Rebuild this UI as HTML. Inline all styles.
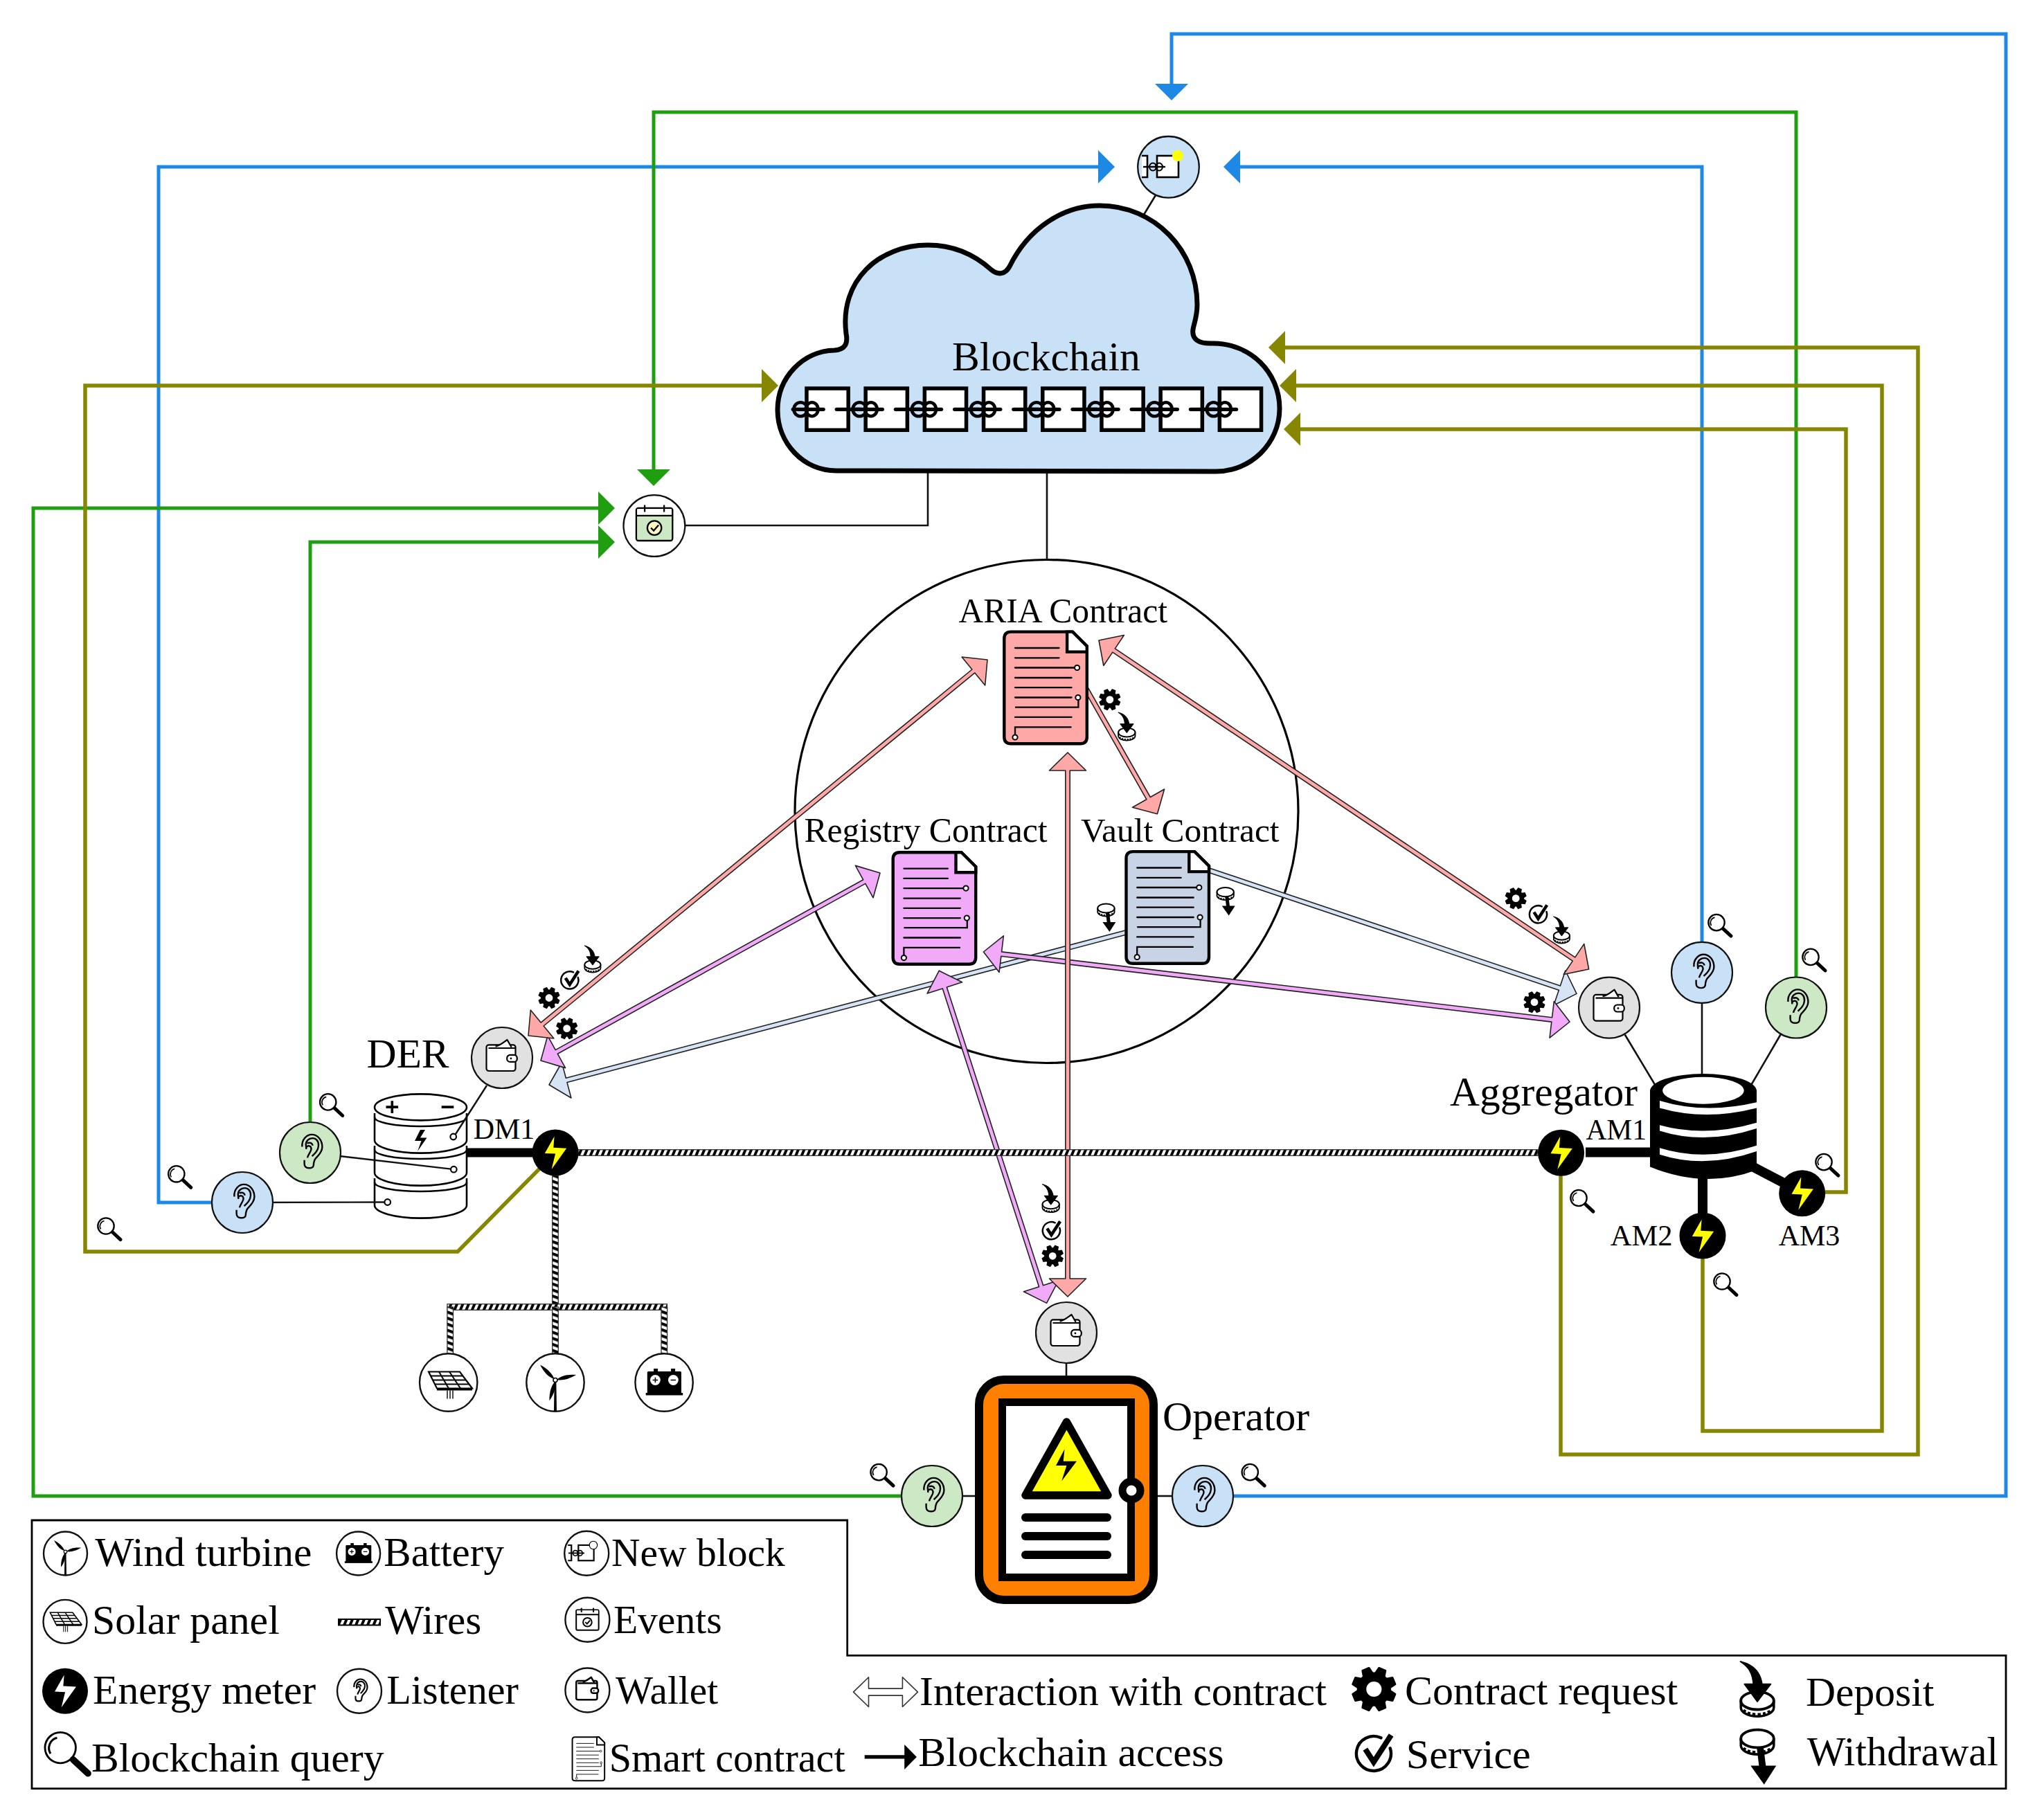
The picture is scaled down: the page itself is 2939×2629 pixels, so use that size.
<!DOCTYPE html>
<html><head><meta charset="utf-8"><style>
html,body{margin:0;padding:0;background:#fff;overflow:hidden;}
svg{display:block;}
text{font-family:"Liberation Serif",serif;fill:#000;}
</style></head><body>
<svg width="2939" height="2629" viewBox="0 0 2939 2629">
<rect width="2939" height="2629" fill="#fff"/>
<defs><pattern id="stripes" width="7.8" height="20" patternUnits="userSpaceOnUse" patternTransform="rotate(23)"><rect width="7.8" height="20" fill="#fff"/><rect width="3.9" height="20" fill="#000"/></pattern><pattern id="stripesV" width="8.2" height="20" patternUnits="userSpaceOnUse" patternTransform="rotate(110)"><rect width="8.2" height="20" fill="#fff"/><rect width="4.1" height="20" fill="#000"/></pattern></defs>
<polyline points="1781,2161 2897,2161 2897,49 1692,49 1692,125" fill="none" stroke="#1e88e5" stroke-width="5" stroke-linejoin="miter" />
<polygon points="1692,145 1668,121 1716,121" fill="#1e88e5" stroke="none" stroke-width="0" stroke-linejoin="round" />
<polyline points="306,1737 229,1737 229,241 1590,241" fill="none" stroke="#1e88e5" stroke-width="5" stroke-linejoin="miter" />
<polygon points="1610,241 1586,265 1586,217" fill="#1e88e5" stroke="none" stroke-width="0" stroke-linejoin="round" />
<polyline points="2458,1361 2458,241 1787,241" fill="none" stroke="#1e88e5" stroke-width="5" stroke-linejoin="miter" />
<polygon points="1767,241 1791,217 1791,265" fill="#1e88e5" stroke="none" stroke-width="0" stroke-linejoin="round" />
<polyline points="1302,2161 48,2161 48,734 868,734" fill="none" stroke="#1f9e10" stroke-width="5" stroke-linejoin="miter" />
<polygon points="888,734 864,758 864,710" fill="#1f9e10" stroke="none" stroke-width="0" stroke-linejoin="round" />
<polyline points="448,1621 448,783 868,783" fill="none" stroke="#1f9e10" stroke-width="5" stroke-linejoin="miter" />
<polygon points="888,783 864,807 864,759" fill="#1f9e10" stroke="none" stroke-width="0" stroke-linejoin="round" />
<polyline points="2594,1411 2594,162 944,162 944,682" fill="none" stroke="#1f9e10" stroke-width="5" stroke-linejoin="miter" />
<polygon points="944,702 920,678 968,678" fill="#1f9e10" stroke="none" stroke-width="0" stroke-linejoin="round" />
<polyline points="802,1665 661,1808 123,1808 123,557 1104,557" fill="none" stroke="#868600" stroke-width="5.5" stroke-linejoin="miter" />
<polygon points="1124,557 1100,581 1100,533" fill="#868600" stroke="none" stroke-width="0" stroke-linejoin="round" />
<polyline points="2254,1698 2254,2101 2770,2101 2770,502 1852,502" fill="none" stroke="#868600" stroke-width="5.5" stroke-linejoin="miter" />
<polygon points="1832,502 1856,478 1856,526" fill="#868600" stroke="none" stroke-width="0" stroke-linejoin="round" />
<polyline points="2459,1818 2459,2067 2718,2067 2718,557 1868,557" fill="none" stroke="#868600" stroke-width="5.5" stroke-linejoin="miter" />
<polygon points="1848,557 1872,533 1872,581" fill="#868600" stroke="none" stroke-width="0" stroke-linejoin="round" />
<polyline points="2636,1722 2666,1722 2666,620 1874,620" fill="none" stroke="#868600" stroke-width="5.5" stroke-linejoin="miter" />
<polygon points="1854,620 1878,596 1878,644" fill="#868600" stroke="none" stroke-width="0" stroke-linejoin="round" />
<line x1="1652" y1="310" x2="1669" y2="282" stroke="#111" stroke-width="2.6" />
<polyline points="1340,683 1340,759 988,759" fill="none" stroke="#111" stroke-width="2.6" stroke-linejoin="miter" />
<line x1="1512" y1="683" x2="1512" y2="808" stroke="#111" stroke-width="2.6" />
<line x1="2346.7" y1="1494.5" x2="2410" y2="1600" stroke="#111" stroke-width="2.6" />
<line x1="2458" y1="1448" x2="2458" y2="1560" stroke="#111" stroke-width="2.6" />
<line x1="2571.8" y1="1494" x2="2510" y2="1600" stroke="#111" stroke-width="2.6" />
<line x1="1540" y1="1969" x2="1540" y2="1990" stroke="#111" stroke-width="2.6" />
<line x1="1390" y1="2161" x2="1410" y2="2161" stroke="#111" stroke-width="2.6" />
<line x1="1670" y1="2161" x2="1693" y2="2161" stroke="#111" stroke-width="2.6" />
<path d="M1208,680 C1160,680 1123,640 1123,592 C1123,545 1160,507 1205,506 C1220,505 1225,497 1222,482 C1212,405 1270,354 1340,354 C1380,354 1410,370 1432,390 C1442,398 1452,396 1458,385 C1485,330 1535,297 1588,297 C1668,297 1729,362 1729,440 C1729,458 1724,468 1723,476 C1721,490 1731,497 1752,496 C1806,496 1848,538 1848,590 C1848,641 1806,681 1756,681 Z" fill="#c9e1f6" stroke="#000" stroke-width="7" stroke-linejoin="round"/>
<rect x="1164.95" y="561.05" width="60.2" height="60.2" fill="#fff" stroke="#000" stroke-width="5.5"/>
<rect x="1250.15" y="561.05" width="60.2" height="60.2" fill="#fff" stroke="#000" stroke-width="5.5"/>
<rect x="1335.35" y="561.05" width="60.2" height="60.2" fill="#fff" stroke="#000" stroke-width="5.5"/>
<rect x="1420.55" y="561.05" width="60.2" height="60.2" fill="#fff" stroke="#000" stroke-width="5.5"/>
<rect x="1505.75" y="561.05" width="60.2" height="60.2" fill="#fff" stroke="#000" stroke-width="5.5"/>
<rect x="1590.95" y="561.05" width="60.2" height="60.2" fill="#fff" stroke="#000" stroke-width="5.5"/>
<rect x="1676.15" y="561.05" width="60.2" height="60.2" fill="#fff" stroke="#000" stroke-width="5.5"/>
<rect x="1761.35" y="561.05" width="60.2" height="60.2" fill="#fff" stroke="#000" stroke-width="5.5"/>
<ellipse cx="1156.2" cy="591.2" rx="9.8" ry="10" fill="none" stroke="#000" stroke-width="4.6"/>
<ellipse cx="1172.7" cy="591.2" rx="8.8" ry="10" fill="none" stroke="#000" stroke-width="4.6"/>
<line x1="1145.2" y1="591.3" x2="1189.2" y2="591.3" stroke="#000" stroke-width="5.2" stroke-linecap="round"/>
<line x1="1208.2" y1="591.3" x2="1243.2" y2="591.3" stroke="#000" stroke-width="5.2" stroke-linecap="round"/>
<ellipse cx="1241.4" cy="591.2" rx="9.8" ry="10" fill="none" stroke="#000" stroke-width="4.6"/>
<ellipse cx="1257.9" cy="591.2" rx="8.8" ry="10" fill="none" stroke="#000" stroke-width="4.6"/>
<line x1="1230.4" y1="591.3" x2="1274.4" y2="591.3" stroke="#000" stroke-width="5.2" stroke-linecap="round"/>
<line x1="1293.4" y1="591.3" x2="1328.4" y2="591.3" stroke="#000" stroke-width="5.2" stroke-linecap="round"/>
<ellipse cx="1326.6" cy="591.2" rx="9.8" ry="10" fill="none" stroke="#000" stroke-width="4.6"/>
<ellipse cx="1343.1" cy="591.2" rx="8.8" ry="10" fill="none" stroke="#000" stroke-width="4.6"/>
<line x1="1315.6" y1="591.3" x2="1359.6" y2="591.3" stroke="#000" stroke-width="5.2" stroke-linecap="round"/>
<line x1="1378.6" y1="591.3" x2="1413.6" y2="591.3" stroke="#000" stroke-width="5.2" stroke-linecap="round"/>
<ellipse cx="1411.8" cy="591.2" rx="9.8" ry="10" fill="none" stroke="#000" stroke-width="4.6"/>
<ellipse cx="1428.3" cy="591.2" rx="8.8" ry="10" fill="none" stroke="#000" stroke-width="4.6"/>
<line x1="1400.8" y1="591.3" x2="1444.8" y2="591.3" stroke="#000" stroke-width="5.2" stroke-linecap="round"/>
<line x1="1463.8" y1="591.3" x2="1498.8" y2="591.3" stroke="#000" stroke-width="5.2" stroke-linecap="round"/>
<ellipse cx="1497" cy="591.2" rx="9.8" ry="10" fill="none" stroke="#000" stroke-width="4.6"/>
<ellipse cx="1513.5" cy="591.2" rx="8.8" ry="10" fill="none" stroke="#000" stroke-width="4.6"/>
<line x1="1486" y1="591.3" x2="1530" y2="591.3" stroke="#000" stroke-width="5.2" stroke-linecap="round"/>
<line x1="1549" y1="591.3" x2="1584" y2="591.3" stroke="#000" stroke-width="5.2" stroke-linecap="round"/>
<ellipse cx="1582.2" cy="591.2" rx="9.8" ry="10" fill="none" stroke="#000" stroke-width="4.6"/>
<ellipse cx="1598.7" cy="591.2" rx="8.8" ry="10" fill="none" stroke="#000" stroke-width="4.6"/>
<line x1="1571.2" y1="591.3" x2="1615.2" y2="591.3" stroke="#000" stroke-width="5.2" stroke-linecap="round"/>
<line x1="1634.2" y1="591.3" x2="1669.2" y2="591.3" stroke="#000" stroke-width="5.2" stroke-linecap="round"/>
<ellipse cx="1667.4" cy="591.2" rx="9.8" ry="10" fill="none" stroke="#000" stroke-width="4.6"/>
<ellipse cx="1683.9" cy="591.2" rx="8.8" ry="10" fill="none" stroke="#000" stroke-width="4.6"/>
<line x1="1656.4" y1="591.3" x2="1700.4" y2="591.3" stroke="#000" stroke-width="5.2" stroke-linecap="round"/>
<line x1="1719.4" y1="591.3" x2="1754.4" y2="591.3" stroke="#000" stroke-width="5.2" stroke-linecap="round"/>
<ellipse cx="1752.6" cy="591.2" rx="9.8" ry="10" fill="none" stroke="#000" stroke-width="4.6"/>
<ellipse cx="1769.1" cy="591.2" rx="8.8" ry="10" fill="none" stroke="#000" stroke-width="4.6"/>
<line x1="1741.6" y1="591.3" x2="1785.6" y2="591.3" stroke="#000" stroke-width="5.2" stroke-linecap="round"/>
<text x="1375" y="535" font-size="59.7" >Blockchain</text>
<circle cx="1687.5" cy="241.3" r="44.3" fill="#c9e1f6" stroke="#111" stroke-width="2.3" />
<g><rect x="1671" y="225" width="31" height="31" fill="#fff" stroke="#000" stroke-width="2.6"/><path d="M1649,225 L1657,225 L1657,256 L1649,256" fill="#fff" stroke="#000" stroke-width="2.6"/><ellipse cx="1665" cy="241" rx="5" ry="5.5" fill="none" stroke="#000" stroke-width="2"/><ellipse cx="1674" cy="241" rx="5" ry="5.5" fill="none" stroke="#000" stroke-width="2"/><line x1="1651" y1="241" x2="1683" y2="241" stroke="#000" stroke-width="2.4"/><circle cx="1701" cy="225" r="8" fill="#ffff00"/></g>
<circle cx="944.9" cy="759.5" r="44.4" fill="#fff" stroke="#111" stroke-width="2.3" />
<g transform="translate(945.1,759) scale(1)" stroke="#000" stroke-width="2.3"><rect x="-26.2" y="-25" width="52.4" height="47" rx="3" fill="#cce8c4"/><path d="M-24.9,-23.7 H24.9 V-14.2 H-24.9 Z" fill="#fff" stroke="none"/><line x1="-26.2" y1="-14.2" x2="26.2" y2="-14.2"/><line x1="-14" y1="-29.5" x2="-14" y2="-19.5"/><line x1="14" y1="-29.5" x2="14" y2="-19.5"/><circle cx="0" cy="3.6" r="10.2" fill="#fff7c0"/><path d="M-5,3.5 L-1,7.5 L6,-0.5" fill="none"/></g>
<circle cx="1511.5" cy="1172" r="363.5" fill="none" stroke="#000" stroke-width="3.2" />
<polygon points="793,1567 824.91,1585.98 818.96,1563.45 1660.82,1341.09 1659.18,1334.91 817.32,1557.27 811.37,1534.74" fill="#d6e4f6" stroke="#222" stroke-width="1.6" stroke-linejoin="round" />
<polygon points="2277,1435.4 2260.79,1402 2253.37,1424.09 1711.02,1241.97 1708.98,1248.03 2251.33,1430.16 2243.92,1452.24" fill="#d6e4f6" stroke="#222" stroke-width="1.6" stroke-linejoin="round" />
<polygon points="781,1532 816.58,1542.61 805.3,1522.22 1249.8,1276.38 1261.07,1296.77 1271,1261 1235.42,1250.39 1246.7,1270.78 802.2,1516.62 790.93,1496.23" fill="#f0aaf8" stroke="#222" stroke-width="1.6" stroke-linejoin="round" />
<polygon points="2267,1476 2244.32,1446.61 2241.56,1469.74 1446.6,1374.9 1449.36,1351.77 1420.4,1375 1443.08,1404.39 1445.84,1381.26 2240.8,1476.1 2238.04,1499.23" fill="#f0aaf8" stroke="#222" stroke-width="1.6" stroke-linejoin="round" />
<polygon points="1356.3,1402.2 1339.09,1435.09 1361.26,1427.92 1500.55,1858.65 1478.39,1865.82 1511.6,1882.4 1528.81,1849.51 1506.64,1856.68 1367.35,1425.95 1389.51,1418.78" fill="#f0aaf8" stroke="#222" stroke-width="1.6" stroke-linejoin="round" />
<polygon points="763,1496 799.91,1500.03 785.14,1482 1407.91,971.95 1422.68,989.98 1426,953 1389.09,948.97 1403.86,967 781.09,1477.05 766.32,1459.02" fill="#ffa8a8" stroke="#222" stroke-width="1.6" stroke-linejoin="round" />
<polygon points="2294.6,1400 2287.78,1363.51 2274.8,1382.85 1610.37,936.83 1623.36,917.49 1587,925 1593.82,961.49 1606.8,942.15 2271.23,1388.17 2258.24,1407.51" fill="#ffa8a8" stroke="#222" stroke-width="1.6" stroke-linejoin="round" />
<polygon points="1542,1087 1515.5,1113 1538.8,1113 1538.8,1847 1515.5,1847 1542,1873 1568.5,1847 1545.2,1847 1545.2,1113 1568.5,1113" fill="#ffa8a8" stroke="#222" stroke-width="1.6" stroke-linejoin="round" />
<polygon points="1545.12,960.08 1655.77,1154.68 1635.51,1166.2 1671.4,1175.7 1681.59,1140 1661.33,1151.52 1550.68,956.92" fill="#ffa8a8" stroke="#222" stroke-width="1.6" stroke-linejoin="round" />
<g transform="translate(1448.1,910.4) scale(1)"><path d="M2.2,12 Q2.2,2.2 12,2.2 L100.9,2.2 L121.7,23 L121.7,154 Q121.7,163.8 112,163.8 L12,163.8 Q2.2,163.8 2.2,154 Z" fill="#ffa8a8" stroke="#000" stroke-width="4.4" stroke-linejoin="round"/><path d="M93,2.2 L100.9,2.2 L121.7,23 L121.7,31.2 L93,31.2 Z" fill="#fff" stroke="#000" stroke-width="4.4"/><path d="M17.9,25.6 L81.4,25.6" fill="none" stroke="#000" stroke-width="2.3" stroke-linecap="round"/><path d="M17.9,39.9 L81.4,39.9" fill="none" stroke="#000" stroke-width="2.3" stroke-linecap="round"/><path d="M17.9,54.1 L104,54.1" fill="none" stroke="#000" stroke-width="2.3" stroke-linecap="round"/><path d="M17.9,68.6 L99.4,68.6" fill="none" stroke="#000" stroke-width="2.3" stroke-linecap="round"/><path d="M17.9,82.8 L99.4,82.8" fill="none" stroke="#000" stroke-width="2.3" stroke-linecap="round"/><path d="M17.9,97.1 L99.4,97.1" fill="none" stroke="#000" stroke-width="2.3" stroke-linecap="round"/><path d="M17.9,111.2 L109.3,111.2 L109.3,100.8" fill="none" stroke="#000" stroke-width="2.3"/><path d="M17.9,125.5 L99.4,125.5" fill="none" stroke="#000" stroke-width="2.3" stroke-linecap="round"/><path d="M99.4,139.9 L17.9,139.9 L17.9,151" fill="none" stroke="#000" stroke-width="2.3"/><circle cx="107.5" cy="54.1" r="3.6" fill="#fff" stroke="#000" stroke-width="2"/><circle cx="108.8" cy="97.1" r="3.6" fill="#fff" stroke="#000" stroke-width="2"/><circle cx="17.9" cy="154.6" r="3.6" fill="#fff" stroke="#000" stroke-width="2"/></g>
<g transform="translate(1287.5,1229) scale(1)"><path d="M2.2,12 Q2.2,2.2 12,2.2 L100.9,2.2 L121.7,23 L121.7,154 Q121.7,163.8 112,163.8 L12,163.8 Q2.2,163.8 2.2,154 Z" fill="#f0aaf8" stroke="#000" stroke-width="4.4" stroke-linejoin="round"/><path d="M93,2.2 L100.9,2.2 L121.7,23 L121.7,31.2 L93,31.2 Z" fill="#fff" stroke="#000" stroke-width="4.4"/><path d="M17.9,25.6 L81.4,25.6" fill="none" stroke="#000" stroke-width="2.3" stroke-linecap="round"/><path d="M17.9,39.9 L81.4,39.9" fill="none" stroke="#000" stroke-width="2.3" stroke-linecap="round"/><path d="M17.9,54.1 L104,54.1" fill="none" stroke="#000" stroke-width="2.3" stroke-linecap="round"/><path d="M17.9,68.6 L99.4,68.6" fill="none" stroke="#000" stroke-width="2.3" stroke-linecap="round"/><path d="M17.9,82.8 L99.4,82.8" fill="none" stroke="#000" stroke-width="2.3" stroke-linecap="round"/><path d="M17.9,97.1 L99.4,97.1" fill="none" stroke="#000" stroke-width="2.3" stroke-linecap="round"/><path d="M17.9,111.2 L109.3,111.2 L109.3,100.8" fill="none" stroke="#000" stroke-width="2.3"/><path d="M17.9,125.5 L99.4,125.5" fill="none" stroke="#000" stroke-width="2.3" stroke-linecap="round"/><path d="M99.4,139.9 L17.9,139.9 L17.9,151" fill="none" stroke="#000" stroke-width="2.3"/><circle cx="107.5" cy="54.1" r="3.6" fill="#fff" stroke="#000" stroke-width="2"/><circle cx="108.8" cy="97.1" r="3.6" fill="#fff" stroke="#000" stroke-width="2"/><circle cx="17.9" cy="154.6" r="3.6" fill="#fff" stroke="#000" stroke-width="2"/></g>
<g transform="translate(1624.3,1227.9) scale(1)"><path d="M2.2,12 Q2.2,2.2 12,2.2 L100.9,2.2 L121.7,23 L121.7,154 Q121.7,163.8 112,163.8 L12,163.8 Q2.2,163.8 2.2,154 Z" fill="#c8d3e5" stroke="#000" stroke-width="4.4" stroke-linejoin="round"/><path d="M93,2.2 L100.9,2.2 L121.7,23 L121.7,31.2 L93,31.2 Z" fill="#fff" stroke="#000" stroke-width="4.4"/><path d="M17.9,25.6 L81.4,25.6" fill="none" stroke="#000" stroke-width="2.3" stroke-linecap="round"/><path d="M17.9,39.9 L81.4,39.9" fill="none" stroke="#000" stroke-width="2.3" stroke-linecap="round"/><path d="M17.9,54.1 L104,54.1" fill="none" stroke="#000" stroke-width="2.3" stroke-linecap="round"/><path d="M17.9,68.6 L99.4,68.6" fill="none" stroke="#000" stroke-width="2.3" stroke-linecap="round"/><path d="M17.9,82.8 L99.4,82.8" fill="none" stroke="#000" stroke-width="2.3" stroke-linecap="round"/><path d="M17.9,97.1 L99.4,97.1" fill="none" stroke="#000" stroke-width="2.3" stroke-linecap="round"/><path d="M17.9,111.2 L109.3,111.2 L109.3,100.8" fill="none" stroke="#000" stroke-width="2.3"/><path d="M17.9,125.5 L99.4,125.5" fill="none" stroke="#000" stroke-width="2.3" stroke-linecap="round"/><path d="M99.4,139.9 L17.9,139.9 L17.9,151" fill="none" stroke="#000" stroke-width="2.3"/><circle cx="107.5" cy="54.1" r="3.6" fill="#fff" stroke="#000" stroke-width="2"/><circle cx="108.8" cy="97.1" r="3.6" fill="#fff" stroke="#000" stroke-width="2"/><circle cx="17.9" cy="154.6" r="3.6" fill="#fff" stroke="#000" stroke-width="2"/></g>
<text x="1384.4" y="899" font-size="49.6" >ARIA Contract</text>
<text x="1161.4" y="1216" font-size="49.6" >Registry Contract</text>
<text x="1560.9" y="1215.5" font-size="49.4" >Vault Contract</text>
<path d="M1614,1011.64 L1617.59,1014.11 L1615.74,1018.58 L1611.46,1017.78 L1609.98,1019.26 L1610.78,1023.54 L1606.31,1025.39 L1603.84,1021.8 L1601.76,1021.8 L1599.29,1025.39 L1594.82,1023.54 L1595.62,1019.26 L1594.14,1017.78 L1589.86,1018.58 L1588.01,1014.11 L1591.6,1011.64 L1591.6,1009.56 L1588.01,1007.09 L1589.86,1002.62 L1594.14,1003.42 L1595.62,1001.94 L1594.82,997.66 L1599.29,995.81 L1601.76,999.4 L1603.84,999.4 L1606.31,995.81 L1610.78,997.66 L1609.98,1001.94 L1611.46,1003.42 L1615.74,1002.62 L1617.59,1007.09 L1614,1009.56Z M1608.9,1010.6 A6.1,6.1 0 1 0 1596.7,1010.6 A6.1,6.1 0 1 0 1608.9,1010.6Z" fill="#000" fill-rule="evenodd" stroke="#000" stroke-width="1.37" stroke-linejoin="round"/>
<g transform="translate(1627.3,1058) scale(1)"><path d="M-12.2,0 L-12.2,5 A12.2,6.6 0 0 0 12.2,5 L12.2,0" fill="#fff" stroke="#000" stroke-width="1.8"/><path d="M-10.5,7.2 A12.2,6.6 0 0 0 10.5,7.2" fill="none" stroke="#000" stroke-width="2.6" stroke-dasharray="2.2,1.6"/><ellipse cx="0" cy="0" rx="12.2" ry="6.6" fill="#fff" stroke="#000" stroke-width="2"/></g>
<g transform="translate(1627.3,1058) scale(1)"><path d="M-12.5,-29 C-4,-27 2,-22 3.4,-12.5 L-2.9,-12.5 C-3.5,-20 -6,-25 -12.5,-29 Z" fill="#000" stroke="#000" stroke-width="1" stroke-linejoin="round"/><polygon points="-9.5,-12.3 9.9,-12.3 0,0.6" fill="#000" stroke="#000" stroke-width="1" stroke-linejoin="round"/></g>
<g transform="translate(1597.4,1312) scale(1)"><path d="M-12.2,0 L-12.2,5 A12.2,6.6 0 0 0 12.2,5 L12.2,0" fill="#fff" stroke="#000" stroke-width="1.8"/><path d="M-10.5,7.2 A12.2,6.6 0 0 0 10.5,7.2" fill="none" stroke="#000" stroke-width="2.6" stroke-dasharray="2.2,1.6"/><ellipse cx="0" cy="0" rx="12.2" ry="6.6" fill="#fff" stroke="#000" stroke-width="2"/></g>
<g transform="translate(1597.4,1312) scale(1)"><path d="M2,6 L4,22" fill="none" stroke="#000" stroke-width="5"/><polygon points="-5,20 14,20 5,34" fill="#000"/></g>
<g transform="translate(1769.7,1288.6) scale(1)"><path d="M-12.2,0 L-12.2,5 A12.2,6.6 0 0 0 12.2,5 L12.2,0" fill="#fff" stroke="#000" stroke-width="1.8"/><path d="M-10.5,7.2 A12.2,6.6 0 0 0 10.5,7.2" fill="none" stroke="#000" stroke-width="2.6" stroke-dasharray="2.2,1.6"/><ellipse cx="0" cy="0" rx="12.2" ry="6.6" fill="#fff" stroke="#000" stroke-width="2"/></g>
<g transform="translate(1769.7,1288.6) scale(1)"><path d="M2,6 L4,22" fill="none" stroke="#000" stroke-width="5"/><polygon points="-5,20 14,20 5,34" fill="#000"/></g>
<text x="529.4" y="1542" font-size="59.6" >DER</text>
<circle cx="725" cy="1528" r="44" fill="#e1e1e1" stroke="#111" stroke-width="2.2" />
<g transform="translate(725,1528) scale(1)" fill="#fff" stroke="#000" stroke-width="2.2" stroke-linejoin="round"><rect x="-22.5" y="-18.7" width="42" height="37.7" rx="3.5"/><path d="M-9.4,-16.4 C-2,-18 3,-23 7.5,-26 L13.7,-15.2"/><path d="M-19.5,-14 L19.5,-14" fill="none"/><rect x="7.2" y="-4.1" width="14.6" height="10" rx="4.5"/><circle cx="12.9" cy="0.9" r="1.4" fill="#000" stroke="none"/></g>
<g fill="#fff" stroke="#000" stroke-width="2.6"><path d="M541,1702 L541,1741 A66.5,18.6 0 0 0 674,1741 L674,1702 Z" stroke="none"/><path d="M541,1702 L541,1741 A66.5,18.6 0 0 0 674,1741 L674,1702" fill="none"/><path d="M541,1708 A66.5,13 0 0 0 674,1708" fill="none"/><path d="M541,1655 L541,1694 A66.5,18.6 0 0 0 674,1694 L674,1655 Z" stroke="none"/><path d="M541,1655 L541,1694 A66.5,18.6 0 0 0 674,1694 L674,1655" fill="none"/><path d="M541,1661 A66.5,13 0 0 0 674,1661" fill="none"/><path d="M541,1608 L541,1647 A66.5,18.6 0 0 0 674,1647 L674,1608 Z" stroke="none"/><path d="M541,1608 L541,1647 A66.5,18.6 0 0 0 674,1647 L674,1608" fill="none"/><path d="M541,1614 A66.5,13 0 0 0 674,1614" fill="none"/><ellipse cx="607.5" cy="1599.4" rx="66.5" ry="19"/><path d="M566.3,1590.3 L566.3,1607.9 M557.5,1599.1 L575.1,1599.1 M637.7,1599.1 L655.3,1599.1" stroke-width="3.6"/><polygon points="607,1632 614,1632 607,1643.5 616.5,1643.5 603,1663 608.5,1648 599,1648" fill="#000" stroke="none"/><circle cx="654.7" cy="1642" r="4.3" stroke-width="2.2"/><circle cx="655.3" cy="1689.2" r="4.3" stroke-width="2.2"/><circle cx="559.7" cy="1736.5" r="4.3" stroke-width="2.2"/></g>
<line x1="703" y1="1568" x2="657.8" y2="1638.5" stroke="#111" stroke-width="2.4" />
<line x1="448" y1="1665" x2="651" y2="1688.6" stroke="#111" stroke-width="2.4" />
<line x1="350" y1="1737" x2="555.5" y2="1736.5" stroke="#111" stroke-width="2.4" />
<circle cx="448" cy="1665" r="44" fill="#cce8c4" stroke="#111" stroke-width="2.2" />
<g transform="translate(448,1665) scale(1)" fill="none" stroke="#000" stroke-width="2.4" stroke-linecap="butt"><path d="M-11.6,-8.5 C-12.5,-19 -5,-26 2.1,-26.1 C11,-26.2 17.5,-18 17.4,-8 C17.3,-1 12,4 8.7,7.4 C6,10 5,14 4.8,18.4 C4.5,21 2,22.3 -1.8,22.3 C-6,22.3 -8.4,20 -8.4,16 L-8.4,10.7"/><path d="M2.6,5.2 C7,1 11.5,-3 12,-10 C12.5,-17 8,-21 3.2,-20.9 C-2,-20.8 -6.5,-17 -6.2,-11 L-5.6,-5.2"/><path d="M3.7,-10.2 C3,-13.5 0,-15.5 -4.5,-13.5"/><path d="M-5.6,-8 C-3,-11 1,-10 1.5,-6 C2,-2 -3,2 -4,7.4"/></g>
<circle cx="350" cy="1737" r="44" fill="#c9e1f6" stroke="#111" stroke-width="2.2" />
<g transform="translate(350,1737) scale(1)" fill="none" stroke="#000" stroke-width="2.4" stroke-linecap="butt"><path d="M-11.6,-8.5 C-12.5,-19 -5,-26 2.1,-26.1 C11,-26.2 17.5,-18 17.4,-8 C17.3,-1 12,4 8.7,7.4 C6,10 5,14 4.8,18.4 C4.5,21 2,22.3 -1.8,22.3 C-6,22.3 -8.4,20 -8.4,16 L-8.4,10.7"/><path d="M2.6,5.2 C7,1 11.5,-3 12,-10 C12.5,-17 8,-21 3.2,-20.9 C-2,-20.8 -6.5,-17 -6.2,-11 L-5.6,-5.2"/><path d="M3.7,-10.2 C3,-13.5 0,-15.5 -4.5,-13.5"/><path d="M-5.6,-8 C-3,-11 1,-10 1.5,-6 C2,-2 -3,2 -4,7.4"/></g>
<line x1="674" y1="1665" x2="770" y2="1665" stroke="#000" stroke-width="13" />
<rect x="835" y="1660.7" width="1386" height="8.6" fill="url(#stripes)" stroke="#333" stroke-width="1.3"/>
<rect x="797.7" y="1698" width="8.6" height="190" fill="url(#stripesV)" stroke="#333" stroke-width="1.3"/>
<rect x="646" y="1883.7" width="317.5" height="8.6" fill="url(#stripes)" stroke="#333" stroke-width="1.3"/>
<rect x="645.9" y="1888" width="8.6" height="68" fill="url(#stripesV)" stroke="#333" stroke-width="1.3"/>
<rect x="797.7" y="1888" width="8.6" height="68" fill="url(#stripesV)" stroke="#333" stroke-width="1.3"/>
<rect x="955" y="1888" width="8.6" height="68" fill="url(#stripesV)" stroke="#333" stroke-width="1.3"/>
<circle cx="802" cy="1665" r="33.5" fill="#000" stroke="none" stroke-width="0" />
<polygon points="800.6,1641.5 786.8,1665.9 802.1,1666.6 796.6,1689 818.2,1658.8 799.3,1657.8" fill="#ffff00" stroke="none" stroke-width="0" stroke-linejoin="round" />
<text x="683.7" y="1645" font-size="42" >DM1</text>
<circle cx="647.7" cy="1997" r="41.7" fill="#fff" stroke="#111" stroke-width="2.4" />
<circle cx="802" cy="1997" r="41.7" fill="#fff" stroke="#111" stroke-width="2.4" />
<circle cx="959.1" cy="1997" r="41.7" fill="#fff" stroke="#111" stroke-width="2.4" />
<g transform="translate(649,1996.5) scale(1)" stroke="#000" fill="none"><polygon points="-30,-15 15,-15 33,9 -18,9" fill="#fff" stroke-width="2.2"/><polygon points="-18,9 33,9 33,12 -18,12" fill="#000" stroke-width="0"/><line x1="-27" y1="-9" x2="19.5" y2="-9" stroke-width="2"/><line x1="-24" y1="-3" x2="24" y2="-3" stroke-width="2"/><line x1="-21" y1="3" x2="28.5" y2="3" stroke-width="2"/><line x1="-15" y1="-15" x2="-1" y2="9" stroke-width="2"/><line x1="0" y1="-15" x2="16" y2="9" stroke-width="2"/><line x1="-3" y1="12" x2="-3" y2="24" stroke-width="1.4"/><line x1="1" y1="12" x2="1" y2="24" stroke-width="1.4"/><line x1="5" y1="12" x2="5" y2="24" stroke-width="1.4"/></g>
<g transform="translate(802,1997) scale(1)" fill="#000"><polygon points="-1.3,-3.5 1.3,-3.5 2,41 -2,41"/><path d="M2.5,0 C8,-4 19,-4.5 31,-0.5 C19,3.5 8,3 2.5,0 Z" transform="translate(0,-3.5) rotate(-134)"/><path d="M2.5,0 C8,-4 19,-4.5 31,-0.5 C19,3.5 8,3 2.5,0 Z" transform="translate(0,-3.5) rotate(-13)"/><path d="M2.5,0 C8,-4 19,-4.5 31,-0.5 C19,3.5 8,3 2.5,0 Z" transform="translate(0,-3.5) rotate(107)"/><circle cx="0" cy="-3.5" r="3" fill="#fff" stroke="#000" stroke-width="1.6"/></g>
<g transform="translate(959.1,1997) scale(1)"><rect x="-15" y="-20" width="6" height="5" fill="#000"/><rect x="10" y="-20" width="6" height="5" fill="#000"/><rect x="-24.3" y="-16" width="49.2" height="33" rx="1.5" fill="#000"/><rect x="-26.4" y="15" width="53.5" height="3.5" fill="#000"/><circle cx="-12.7" cy="-3.5" r="7.4" fill="#fff"/><circle cx="13.3" cy="-3.5" r="7.4" fill="#fff"/><path d="M-16.5,-3.5 H-9 M-12.7,-7.3 V0.3 M9.5,-3.5 H17" stroke="#000" stroke-width="1.6"/></g>
<text x="2094" y="1597" font-size="59.5" >Aggregator</text>
<circle cx="2324" cy="1455.6" r="44" fill="#e1e1e1" stroke="#111" stroke-width="2.2" />
<g transform="translate(2324,1455.6) scale(1)" fill="#fff" stroke="#000" stroke-width="2.2" stroke-linejoin="round"><rect x="-22.5" y="-18.7" width="42" height="37.7" rx="3.5"/><path d="M-9.4,-16.4 C-2,-18 3,-23 7.5,-26 L13.7,-15.2"/><path d="M-19.5,-14 L19.5,-14" fill="none"/><rect x="7.2" y="-4.1" width="14.6" height="10" rx="4.5"/><circle cx="12.9" cy="0.9" r="1.4" fill="#000" stroke="none"/></g>
<circle cx="2458" cy="1404.8" r="44" fill="#c9e1f6" stroke="#111" stroke-width="2.2" />
<g transform="translate(2458,1404.8) scale(1)" fill="none" stroke="#000" stroke-width="2.4" stroke-linecap="butt"><path d="M-11.6,-8.5 C-12.5,-19 -5,-26 2.1,-26.1 C11,-26.2 17.5,-18 17.4,-8 C17.3,-1 12,4 8.7,7.4 C6,10 5,14 4.8,18.4 C4.5,21 2,22.3 -1.8,22.3 C-6,22.3 -8.4,20 -8.4,16 L-8.4,10.7"/><path d="M2.6,5.2 C7,1 11.5,-3 12,-10 C12.5,-17 8,-21 3.2,-20.9 C-2,-20.8 -6.5,-17 -6.2,-11 L-5.6,-5.2"/><path d="M3.7,-10.2 C3,-13.5 0,-15.5 -4.5,-13.5"/><path d="M-5.6,-8 C-3,-11 1,-10 1.5,-6 C2,-2 -3,2 -4,7.4"/></g>
<circle cx="2594" cy="1455.5" r="44" fill="#cce8c4" stroke="#111" stroke-width="2.2" />
<g transform="translate(2594,1455.5) scale(1)" fill="none" stroke="#000" stroke-width="2.4" stroke-linecap="butt"><path d="M-11.6,-8.5 C-12.5,-19 -5,-26 2.1,-26.1 C11,-26.2 17.5,-18 17.4,-8 C17.3,-1 12,4 8.7,7.4 C6,10 5,14 4.8,18.4 C4.5,21 2,22.3 -1.8,22.3 C-6,22.3 -8.4,20 -8.4,16 L-8.4,10.7"/><path d="M2.6,5.2 C7,1 11.5,-3 12,-10 C12.5,-17 8,-21 3.2,-20.9 C-2,-20.8 -6.5,-17 -6.2,-11 L-5.6,-5.2"/><path d="M3.7,-10.2 C3,-13.5 0,-15.5 -4.5,-13.5"/><path d="M-5.6,-8 C-3,-11 1,-10 1.5,-6 C2,-2 -3,2 -4,7.4"/></g>
<g transform="translate(2383,1551)"><path d="M0,25 A77,25 0 0 1 154,25 L154,139 Q80,167 0,134.4 Z" fill="#000"/><ellipse cx="76.9" cy="24.2" rx="58.7" ry="19.5" fill="#fff"/><path d="M14,38.9 Q80,58.9 154,41.3 L154,49.5 Q80,68.5 14,49.5 Z" fill="#fff"/><path d="M14,74.3 Q80,92.5 154,70.8 L154,79 Q80,103.3 14,82.5 Z" fill="#fff"/><path d="M14,107.3 Q80,127.9 154,103.8 L154,112 Q80,138 14,116.7 Z" fill="#fff"/></g>
<line x1="2290" y1="1664.5" x2="2390" y2="1664.5" stroke="#000" stroke-width="14" />
<line x1="2459" y1="1695" x2="2459" y2="1760" stroke="#000" stroke-width="14" />
<line x1="2527" y1="1683" x2="2590" y2="1716" stroke="#000" stroke-width="14" />
<circle cx="2254.6" cy="1665.3" r="33.5" fill="#000" stroke="none" stroke-width="0" />
<polygon points="2253.2,1641.8 2239.4,1666.2 2254.7,1666.9 2249.2,1689.3 2270.8,1659.1 2251.9,1658.1" fill="#ffff00" stroke="none" stroke-width="0" stroke-linejoin="round" />
<circle cx="2459" cy="1785" r="33.5" fill="#000" stroke="none" stroke-width="0" />
<polygon points="2457.6,1761.5 2443.8,1785.9 2459.1,1786.6 2453.6,1809 2475.2,1778.8 2456.3,1777.8" fill="#ffff00" stroke="none" stroke-width="0" stroke-linejoin="round" />
<circle cx="2602.7" cy="1723.8" r="33.5" fill="#000" stroke="none" stroke-width="0" />
<polygon points="2601.3,1700.3 2587.5,1724.7 2602.8,1725.4 2597.3,1747.8 2618.9,1717.6 2600,1716.6" fill="#ffff00" stroke="none" stroke-width="0" stroke-linejoin="round" />
<text x="2290.4" y="1645.6" font-size="41.5" >AM1</text>
<text x="2325.8" y="1799" font-size="42.5" >AM2</text>
<text x="2568.7" y="1799" font-size="42" >AM3</text>
<circle cx="1540" cy="1925" r="44" fill="#e1e1e1" stroke="#111" stroke-width="2.2" />
<g transform="translate(1540,1925) scale(1)" fill="#fff" stroke="#000" stroke-width="2.2" stroke-linejoin="round"><rect x="-22.5" y="-18.7" width="42" height="37.7" rx="3.5"/><path d="M-9.4,-16.4 C-2,-18 3,-23 7.5,-26 L13.7,-15.2"/><path d="M-19.5,-14 L19.5,-14" fill="none"/><rect x="7.2" y="-4.1" width="14.6" height="10" rx="4.5"/><circle cx="12.9" cy="0.9" r="1.4" fill="#000" stroke="none"/></g>
<rect x="1414" y="1993" width="252" height="318" rx="36" fill="#ff8000" stroke="#000" stroke-width="12"/>
<rect x="1447.5" y="2025.5" width="186" height="253" fill="#fff" stroke="#000" stroke-width="11"/>
<polygon points="1540.4,2054 1481,2160 1600,2160" fill="#ffff00" stroke="#000" stroke-width="11.4" stroke-linejoin="round"/>
<polygon points="1537.5,2093.2 1525,2117 1540.4,2117 1533.2,2139.6 1555,2110.7 1535.7,2110.7" fill="#000"/>
<line x1="1481" y1="2192" x2="1599" y2="2192" stroke="#000" stroke-width="12" stroke-linecap="round"/>
<line x1="1481" y1="2219" x2="1599" y2="2219" stroke="#000" stroke-width="12" stroke-linecap="round"/>
<line x1="1481" y1="2246" x2="1599" y2="2246" stroke="#000" stroke-width="12" stroke-linecap="round"/>
<circle cx="1634" cy="2153" r="13" fill="#fff" stroke="#000" stroke-width="11" />
<text x="1679.1" y="2066" font-size="59.7" >Operator</text>
<circle cx="1346" cy="2161" r="44" fill="#cce8c4" stroke="#111" stroke-width="2.2" />
<g transform="translate(1346,2161) scale(1)" fill="none" stroke="#000" stroke-width="2.4" stroke-linecap="butt"><path d="M-11.6,-8.5 C-12.5,-19 -5,-26 2.1,-26.1 C11,-26.2 17.5,-18 17.4,-8 C17.3,-1 12,4 8.7,7.4 C6,10 5,14 4.8,18.4 C4.5,21 2,22.3 -1.8,22.3 C-6,22.3 -8.4,20 -8.4,16 L-8.4,10.7"/><path d="M2.6,5.2 C7,1 11.5,-3 12,-10 C12.5,-17 8,-21 3.2,-20.9 C-2,-20.8 -6.5,-17 -6.2,-11 L-5.6,-5.2"/><path d="M3.7,-10.2 C3,-13.5 0,-15.5 -4.5,-13.5"/><path d="M-5.6,-8 C-3,-11 1,-10 1.5,-6 C2,-2 -3,2 -4,7.4"/></g>
<circle cx="1737" cy="2161" r="44" fill="#c9e1f6" stroke="#111" stroke-width="2.2" />
<g transform="translate(1737,2161) scale(1)" fill="none" stroke="#000" stroke-width="2.4" stroke-linecap="butt"><path d="M-11.6,-8.5 C-12.5,-19 -5,-26 2.1,-26.1 C11,-26.2 17.5,-18 17.4,-8 C17.3,-1 12,4 8.7,7.4 C6,10 5,14 4.8,18.4 C4.5,21 2,22.3 -1.8,22.3 C-6,22.3 -8.4,20 -8.4,16 L-8.4,10.7"/><path d="M2.6,5.2 C7,1 11.5,-3 12,-10 C12.5,-17 8,-21 3.2,-20.9 C-2,-20.8 -6.5,-17 -6.2,-11 L-5.6,-5.2"/><path d="M3.7,-10.2 C3,-13.5 0,-15.5 -4.5,-13.5"/><path d="M-5.6,-8 C-3,-11 1,-10 1.5,-6 C2,-2 -3,2 -4,7.4"/></g>
<circle cx="254.8" cy="1695.8" r="11.7" fill="#fff" stroke="#000" stroke-width="2.3" />
<line x1="264.45" y1="1704.8" x2="275.79" y2="1715.37" stroke="#000" stroke-width="5" stroke-linecap="round"/>
<path d="M247.3,1700.3 A8,8 0 0 1 252.3,1688.3" fill="none" stroke="#000" stroke-width="1.6"/>
<circle cx="473.7" cy="1591.9" r="11.7" fill="#fff" stroke="#000" stroke-width="2.3" />
<line x1="483.35" y1="1600.9" x2="494.69" y2="1611.47" stroke="#000" stroke-width="5" stroke-linecap="round"/>
<path d="M466.2,1596.4 A8,8 0 0 1 471.2,1584.4" fill="none" stroke="#000" stroke-width="1.6"/>
<circle cx="153" cy="1771" r="11.7" fill="#fff" stroke="#000" stroke-width="2.3" />
<line x1="162.65" y1="1780" x2="173.99" y2="1790.57" stroke="#000" stroke-width="5" stroke-linecap="round"/>
<path d="M145.5,1775.5 A8,8 0 0 1 150.5,1763.5" fill="none" stroke="#000" stroke-width="1.6"/>
<circle cx="2479" cy="1332.6" r="11.7" fill="#fff" stroke="#000" stroke-width="2.3" />
<line x1="2488.65" y1="1341.6" x2="2499.99" y2="1352.17" stroke="#000" stroke-width="5" stroke-linecap="round"/>
<path d="M2471.5,1337.1 A8,8 0 0 1 2476.5,1325.1" fill="none" stroke="#000" stroke-width="1.6"/>
<circle cx="2615" cy="1382.4" r="11.7" fill="#fff" stroke="#000" stroke-width="2.3" />
<line x1="2624.65" y1="1391.4" x2="2635.99" y2="1401.97" stroke="#000" stroke-width="5" stroke-linecap="round"/>
<path d="M2607.5,1386.9 A8,8 0 0 1 2612.5,1374.9" fill="none" stroke="#000" stroke-width="1.6"/>
<circle cx="2280" cy="1730.5" r="11.7" fill="#fff" stroke="#000" stroke-width="2.3" />
<line x1="2289.65" y1="1739.5" x2="2300.99" y2="1750.07" stroke="#000" stroke-width="5" stroke-linecap="round"/>
<path d="M2272.5,1735 A8,8 0 0 1 2277.5,1723" fill="none" stroke="#000" stroke-width="1.6"/>
<circle cx="2634" cy="1678.6" r="11.7" fill="#fff" stroke="#000" stroke-width="2.3" />
<line x1="2643.65" y1="1687.6" x2="2654.99" y2="1698.17" stroke="#000" stroke-width="5" stroke-linecap="round"/>
<path d="M2626.5,1683.1 A8,8 0 0 1 2631.5,1671.1" fill="none" stroke="#000" stroke-width="1.6"/>
<circle cx="2487" cy="1851" r="11.7" fill="#fff" stroke="#000" stroke-width="2.3" />
<line x1="2496.65" y1="1860" x2="2507.99" y2="1870.57" stroke="#000" stroke-width="5" stroke-linecap="round"/>
<path d="M2479.5,1855.5 A8,8 0 0 1 2484.5,1843.5" fill="none" stroke="#000" stroke-width="1.6"/>
<circle cx="1269.1" cy="2126.6" r="11.7" fill="#fff" stroke="#000" stroke-width="2.3" />
<line x1="1278.75" y1="2135.6" x2="1290.09" y2="2146.17" stroke="#000" stroke-width="5" stroke-linecap="round"/>
<path d="M1261.6,2131.1 A8,8 0 0 1 1266.6,2119.1" fill="none" stroke="#000" stroke-width="1.6"/>
<circle cx="1805.3" cy="2126.6" r="11.7" fill="#fff" stroke="#000" stroke-width="2.3" />
<line x1="1814.95" y1="2135.6" x2="1826.29" y2="2146.17" stroke="#000" stroke-width="5" stroke-linecap="round"/>
<path d="M1797.8,2131.1 A8,8 0 0 1 1802.8,2119.1" fill="none" stroke="#000" stroke-width="1.6"/>
<path d="M804.2,1442.54 L807.79,1445.01 L805.94,1449.48 L801.66,1448.68 L800.18,1450.16 L800.98,1454.44 L796.51,1456.29 L794.04,1452.7 L791.96,1452.7 L789.49,1456.29 L785.02,1454.44 L785.82,1450.16 L784.34,1448.68 L780.06,1449.48 L778.21,1445.01 L781.8,1442.54 L781.8,1440.46 L778.21,1437.99 L780.06,1433.52 L784.34,1434.32 L785.82,1432.84 L785.02,1428.56 L789.49,1426.71 L791.96,1430.3 L794.04,1430.3 L796.51,1426.71 L800.98,1428.56 L800.18,1432.84 L801.66,1434.32 L805.94,1433.52 L807.79,1437.99 L804.2,1440.46Z M799.1,1441.5 A6.1,6.1 0 1 0 786.9,1441.5 A6.1,6.1 0 1 0 799.1,1441.5Z" fill="#000" fill-rule="evenodd" stroke="#000" stroke-width="1.37" stroke-linejoin="round"/>
<path d="M834.78,1412.01 A12.6,12.6 0 1 1 828.12,1404.48" fill="none" stroke="#000" stroke-width="2.5" stroke-linecap="round"/>
<path d="M816.7,1412.7 L822.8,1422.1 L835.5,1402.5" fill="none" stroke="#000" stroke-width="4.5" stroke-linejoin="miter" stroke-miterlimit="10"/>
<g transform="translate(855.9,1393.5) scale(0.95)"><path d="M-12.2,0 L-12.2,5 A12.2,6.6 0 0 0 12.2,5 L12.2,0" fill="#fff" stroke="#000" stroke-width="1.8"/><path d="M-10.5,7.2 A12.2,6.6 0 0 0 10.5,7.2" fill="none" stroke="#000" stroke-width="2.6" stroke-dasharray="2.2,1.6"/><ellipse cx="0" cy="0" rx="12.2" ry="6.6" fill="#fff" stroke="#000" stroke-width="2"/></g>
<g transform="translate(855.9,1393.5) scale(0.95)"><path d="M-12.5,-29 C-4,-27 2,-22 3.4,-12.5 L-2.9,-12.5 C-3.5,-20 -6,-25 -12.5,-29 Z" fill="#000" stroke="#000" stroke-width="1" stroke-linejoin="round"/><polygon points="-9.5,-12.3 9.9,-12.3 0,0.6" fill="#000" stroke="#000" stroke-width="1" stroke-linejoin="round"/></g>
<path d="M829.9,1486.74 L833.49,1489.21 L831.64,1493.68 L827.36,1492.88 L825.88,1494.36 L826.68,1498.64 L822.21,1500.49 L819.74,1496.9 L817.66,1496.9 L815.19,1500.49 L810.72,1498.64 L811.52,1494.36 L810.04,1492.88 L805.76,1493.68 L803.91,1489.21 L807.5,1486.74 L807.5,1484.66 L803.91,1482.19 L805.76,1477.72 L810.04,1478.52 L811.52,1477.04 L810.72,1472.76 L815.19,1470.91 L817.66,1474.5 L819.74,1474.5 L822.21,1470.91 L826.68,1472.76 L825.88,1477.04 L827.36,1478.52 L831.64,1477.72 L833.49,1482.19 L829.9,1484.66Z M824.8,1485.7 A6.1,6.1 0 1 0 812.6,1485.7 A6.1,6.1 0 1 0 824.8,1485.7Z" fill="#000" fill-rule="evenodd" stroke="#000" stroke-width="1.37" stroke-linejoin="round"/>
<path d="M2200.4,1298.74 L2203.99,1301.21 L2202.14,1305.68 L2197.86,1304.88 L2196.38,1306.36 L2197.18,1310.64 L2192.71,1312.49 L2190.24,1308.9 L2188.16,1308.9 L2185.69,1312.49 L2181.22,1310.64 L2182.02,1306.36 L2180.54,1304.88 L2176.26,1305.68 L2174.41,1301.21 L2178,1298.74 L2178,1296.66 L2174.41,1294.19 L2176.26,1289.72 L2180.54,1290.52 L2182.02,1289.04 L2181.22,1284.76 L2185.69,1282.91 L2188.16,1286.5 L2190.24,1286.5 L2192.71,1282.91 L2197.18,1284.76 L2196.38,1289.04 L2197.86,1290.52 L2202.14,1289.72 L2203.99,1294.19 L2200.4,1296.66Z M2195.3,1297.7 A6.1,6.1 0 1 0 2183.1,1297.7 A6.1,6.1 0 1 0 2195.3,1297.7Z" fill="#000" fill-rule="evenodd" stroke="#000" stroke-width="1.37" stroke-linejoin="round"/>
<path d="M2233.48,1316.91 A12.6,12.6 0 1 1 2226.82,1309.38" fill="none" stroke="#000" stroke-width="2.5" stroke-linecap="round"/>
<path d="M2215.4,1317.6 L2221.5,1327 L2234.2,1307.4" fill="none" stroke="#000" stroke-width="4.5" stroke-linejoin="miter" stroke-miterlimit="10"/>
<g transform="translate(2255.4,1351.5) scale(0.95)"><path d="M-12.2,0 L-12.2,5 A12.2,6.6 0 0 0 12.2,5 L12.2,0" fill="#fff" stroke="#000" stroke-width="1.8"/><path d="M-10.5,7.2 A12.2,6.6 0 0 0 10.5,7.2" fill="none" stroke="#000" stroke-width="2.6" stroke-dasharray="2.2,1.6"/><ellipse cx="0" cy="0" rx="12.2" ry="6.6" fill="#fff" stroke="#000" stroke-width="2"/></g>
<g transform="translate(2255.4,1351.5) scale(0.95)"><path d="M-12.5,-29 C-4,-27 2,-22 3.4,-12.5 L-2.9,-12.5 C-3.5,-20 -6,-25 -12.5,-29 Z" fill="#000" stroke="#000" stroke-width="1" stroke-linejoin="round"/><polygon points="-9.5,-12.3 9.9,-12.3 0,0.6" fill="#000" stroke="#000" stroke-width="1" stroke-linejoin="round"/></g>
<path d="M2227.2,1448.74 L2230.79,1451.21 L2228.94,1455.68 L2224.66,1454.88 L2223.18,1456.36 L2223.98,1460.64 L2219.51,1462.49 L2217.04,1458.9 L2214.96,1458.9 L2212.49,1462.49 L2208.02,1460.64 L2208.82,1456.36 L2207.34,1454.88 L2203.06,1455.68 L2201.21,1451.21 L2204.8,1448.74 L2204.8,1446.66 L2201.21,1444.19 L2203.06,1439.72 L2207.34,1440.52 L2208.82,1439.04 L2208.02,1434.76 L2212.49,1432.91 L2214.96,1436.5 L2217.04,1436.5 L2219.51,1432.91 L2223.98,1434.76 L2223.18,1439.04 L2224.66,1440.52 L2228.94,1439.72 L2230.79,1444.19 L2227.2,1446.66Z M2222.1,1447.7 A6.1,6.1 0 1 0 2209.9,1447.7 A6.1,6.1 0 1 0 2222.1,1447.7Z" fill="#000" fill-rule="evenodd" stroke="#000" stroke-width="1.37" stroke-linejoin="round"/>
<g transform="translate(1517.7,1739.6) scale(1)"><path d="M-12.2,0 L-12.2,5 A12.2,6.6 0 0 0 12.2,5 L12.2,0" fill="#fff" stroke="#000" stroke-width="1.8"/><path d="M-10.5,7.2 A12.2,6.6 0 0 0 10.5,7.2" fill="none" stroke="#000" stroke-width="2.6" stroke-dasharray="2.2,1.6"/><ellipse cx="0" cy="0" rx="12.2" ry="6.6" fill="#fff" stroke="#000" stroke-width="2"/></g>
<g transform="translate(1517.7,1739.6) scale(1)"><path d="M-12.5,-29 C-4,-27 2,-22 3.4,-12.5 L-2.9,-12.5 C-3.5,-20 -6,-25 -12.5,-29 Z" fill="#000" stroke="#000" stroke-width="1" stroke-linejoin="round"/><polygon points="-9.5,-12.3 9.9,-12.3 0,0.6" fill="#000" stroke="#000" stroke-width="1" stroke-linejoin="round"/></g>
<path d="M1530.38,1773.81 A12.6,12.6 0 1 1 1523.72,1766.28" fill="none" stroke="#000" stroke-width="2.5" stroke-linecap="round"/>
<path d="M1512.3,1774.5 L1518.4,1783.9 L1531.1,1764.3" fill="none" stroke="#000" stroke-width="4.5" stroke-linejoin="miter" stroke-miterlimit="10"/>
<path d="M1531.55,1815.35 L1535.18,1817.85 L1533.31,1822.38 L1528.97,1821.58 L1527.48,1823.07 L1528.28,1827.41 L1523.75,1829.28 L1521.25,1825.65 L1519.15,1825.65 L1516.65,1829.28 L1512.12,1827.41 L1512.92,1823.07 L1511.43,1821.58 L1507.09,1822.38 L1505.22,1817.85 L1508.85,1815.35 L1508.85,1813.25 L1505.22,1810.75 L1507.09,1806.22 L1511.43,1807.02 L1512.92,1805.53 L1512.12,1801.19 L1516.65,1799.32 L1519.15,1802.95 L1521.25,1802.95 L1523.75,1799.32 L1528.28,1801.19 L1527.48,1805.53 L1528.97,1807.02 L1533.31,1806.22 L1535.18,1810.75 L1531.55,1813.25Z M1526.3,1814.3 A6.1,6.1 0 1 0 1514.1,1814.3 A6.1,6.1 0 1 0 1526.3,1814.3Z" fill="#000" fill-rule="evenodd" stroke="#000" stroke-width="1.39" stroke-linejoin="round"/>
<path d="M46,2196 L1223.7,2196 L1223.7,2391.4 L2897,2391.4 L2897,2583.6 L46,2583.6 Z" fill="none" stroke="#000" stroke-width="2.8"/>
<text x="137.3" y="2261.6" font-size="59.5" >Wind turbine</text>
<text x="554.3" y="2262" font-size="59" >Battery</text>
<text x="883" y="2262.2" font-size="57.5" >New block</text>
<text x="133.1" y="2360.4" font-size="59.8" >Solar panel</text>
<text x="556.3" y="2360" font-size="59.2" >Wires</text>
<text x="885.9" y="2358.6" font-size="57.6" >Events</text>
<text x="134" y="2461.2" font-size="59.7" >Energy meter</text>
<text x="558.3" y="2461" font-size="58.2" >Listener</text>
<text x="889" y="2460.6" font-size="57.3" >Wallet</text>
<text x="131.9" y="2558.5" font-size="59.7" >Blockchain query</text>
<text x="879.7" y="2559.1" font-size="58.2" >Smart contract</text>
<text x="1328" y="2462.7" font-size="59.8" >Interaction with contract</text>
<text x="1326.2" y="2551" font-size="60" >Blockchain access</text>
<text x="2029.1" y="2461.5" font-size="59.9" >Contract request</text>
<text x="2030.8" y="2553.5" font-size="60" >Service</text>
<text x="2607.9" y="2463.9" font-size="59.6" >Deposit</text>
<text x="2609.7" y="2549.7" font-size="59" >Withdrawal</text>
<circle cx="94.5" cy="2244" r="31.5" fill="#fff" stroke="#111" stroke-width="2.4" />
<g transform="translate(94.5,2244) scale(0.75)" fill="#000"><polygon points="-1.3,-3.5 1.3,-3.5 2,41 -2,41"/><path d="M2.5,0 C8,-4 19,-4.5 31,-0.5 C19,3.5 8,3 2.5,0 Z" transform="translate(0,-3.5) rotate(-134)"/><path d="M2.5,0 C8,-4 19,-4.5 31,-0.5 C19,3.5 8,3 2.5,0 Z" transform="translate(0,-3.5) rotate(-13)"/><path d="M2.5,0 C8,-4 19,-4.5 31,-0.5 C19,3.5 8,3 2.5,0 Z" transform="translate(0,-3.5) rotate(107)"/><circle cx="0" cy="-3.5" r="3" fill="#fff" stroke="#000" stroke-width="1.6"/></g>
<circle cx="517.6" cy="2244" r="31.5" fill="#fff" stroke="#111" stroke-width="2.4" />
<g transform="translate(517.6,2244) scale(0.75)"><rect x="-15" y="-20" width="6" height="5" fill="#000"/><rect x="10" y="-20" width="6" height="5" fill="#000"/><rect x="-24.3" y="-16" width="49.2" height="33" rx="1.5" fill="#000"/><rect x="-26.4" y="15" width="53.5" height="3.5" fill="#000"/><circle cx="-12.7" cy="-3.5" r="7.4" fill="#fff"/><circle cx="13.3" cy="-3.5" r="7.4" fill="#fff"/><path d="M-16.5,-3.5 H-9 M-12.7,-7.3 V0.3 M9.5,-3.5 H17" stroke="#000" stroke-width="1.6"/></g>
<circle cx="847.2" cy="2243.7" r="32" fill="#fff" stroke="#111" stroke-width="2.4" />
<circle cx="94" cy="2342.4" r="31.5" fill="#fff" stroke="#111" stroke-width="2.4" />
<g transform="translate(94,2340) scale(0.72)" stroke="#000" fill="none"><polygon points="-30,-15 15,-15 33,9 -18,9" fill="#fff" stroke-width="2.2"/><polygon points="-18,9 33,9 33,12 -18,12" fill="#000" stroke-width="0"/><line x1="-27" y1="-9" x2="19.5" y2="-9" stroke-width="2"/><line x1="-24" y1="-3" x2="24" y2="-3" stroke-width="2"/><line x1="-21" y1="3" x2="28.5" y2="3" stroke-width="2"/><line x1="-15" y1="-15" x2="-1" y2="9" stroke-width="2"/><line x1="0" y1="-15" x2="16" y2="9" stroke-width="2"/><line x1="-3" y1="12" x2="-3" y2="24" stroke-width="1.4"/><line x1="1" y1="12" x2="1" y2="24" stroke-width="1.4"/><line x1="5" y1="12" x2="5" y2="24" stroke-width="1.4"/></g>
<rect x="489" y="2339" width="60" height="8.5" fill="url(#stripes)" stroke="#000" stroke-width="2"/>
<circle cx="848.4" cy="2339.8" r="32" fill="#fff" stroke="#111" stroke-width="2.4" />
<g transform="translate(848.4,2341) scale(0.62)" stroke="#000" stroke-width="3.2"><rect x="-26.2" y="-25" width="52.4" height="47" rx="3" fill="#fff"/><path d="M-24.9,-23.7 H24.9 V-14.2 H-24.9 Z" fill="#fff" stroke="none"/><line x1="-26.2" y1="-14.2" x2="26.2" y2="-14.2"/><line x1="-14" y1="-29.5" x2="-14" y2="-19.5"/><line x1="14" y1="-29.5" x2="14" y2="-19.5"/><circle cx="0" cy="3.6" r="10.2" fill="#fff"/><path d="M-5,3.5 L-1,7.5 L6,-0.5" fill="none"/></g>
<circle cx="94" cy="2442.7" r="33" fill="#000" stroke="none" stroke-width="0" />
<polygon points="92.62,2419.55 79.03,2443.59 94.1,2444.28 88.68,2466.34 109.96,2436.59 91.34,2435.61" fill="#fff" stroke="none" stroke-width="0" stroke-linejoin="round" />
<circle cx="519" cy="2442.7" r="32" fill="#fff" stroke="#111" stroke-width="2.4" />
<g transform="translate(519,2442.7) scale(0.66)" fill="none" stroke="#000" stroke-width="3.2" stroke-linecap="butt"><path d="M-11.6,-8.5 C-12.5,-19 -5,-26 2.1,-26.1 C11,-26.2 17.5,-18 17.4,-8 C17.3,-1 12,4 8.7,7.4 C6,10 5,14 4.8,18.4 C4.5,21 2,22.3 -1.8,22.3 C-6,22.3 -8.4,20 -8.4,16 L-8.4,10.7"/><path d="M2.6,5.2 C7,1 11.5,-3 12,-10 C12.5,-17 8,-21 3.2,-20.9 C-2,-20.8 -6.5,-17 -6.2,-11 L-5.6,-5.2"/><path d="M3.7,-10.2 C3,-13.5 0,-15.5 -4.5,-13.5"/><path d="M-5.6,-8 C-3,-11 1,-10 1.5,-6 C2,-2 -3,2 -4,7.4"/></g>
<circle cx="848.4" cy="2441.5" r="32" fill="#fff" stroke="#111" stroke-width="2.4" />
<g transform="translate(848.4,2441.5) scale(0.72)" fill="#fff" stroke="#000" stroke-width="3.4" stroke-linejoin="round"><rect x="-22.5" y="-18.7" width="42" height="37.7" rx="3.5"/><path d="M-9.4,-16.4 C-2,-18 3,-23 7.5,-26 L13.7,-15.2"/><path d="M-19.5,-14 L19.5,-14" fill="none"/><rect x="7.2" y="-4.1" width="14.6" height="10" rx="4.5"/><circle cx="12.9" cy="0.9" r="1.4" fill="#000" stroke="none"/></g>
<circle cx="87.2" cy="2524.6" r="22.23" fill="#fff" stroke="#000" stroke-width="2.85" />
<line x1="105.54" y1="2541.7" x2="127.08" y2="2561.79" stroke="#000" stroke-width="9.5" stroke-linecap="round"/>
<path d="M72.95,2533.15 A15.2,15.2 0 0 1 82.45,2510.35" fill="none" stroke="#000" stroke-width="3.04"/>
<g transform="translate(847.2,2243.7) scale(0.72) translate(-1687.5,-241.3)"><rect x="1671" y="225" width="31" height="31" fill="#fff" stroke="#000" stroke-width="3"/><path d="M1650,225 L1657,225 L1657,256 L1650,256" fill="none" stroke="#000" stroke-width="3"/><ellipse cx="1665" cy="241" rx="5" ry="5.5" fill="none" stroke="#000" stroke-width="2.4"/><ellipse cx="1674" cy="241" rx="5" ry="5.5" fill="none" stroke="#000" stroke-width="2.4"/><line x1="1651" y1="241" x2="1683" y2="241" stroke="#000" stroke-width="2.6"/><circle cx="1701" cy="225" r="8" fill="#fff" stroke="#000" stroke-width="1.6"/></g>
<g transform="translate(825.7,2508.4) scale(0.39)"><path d="M2.2,12 Q2.2,2.2 12,2.2 L100.9,2.2 L121.7,23 L121.7,154 Q121.7,163.8 112,163.8 L12,163.8 Q2.2,163.8 2.2,154 Z" fill="#fff" stroke="#000" stroke-width="5" stroke-linejoin="round"/><path d="M93,2.2 L100.9,2.2 L121.7,23 L121.7,31.2 L93,31.2 Z" fill="#fff" stroke="#000" stroke-width="5"/><path d="M17.9,25.6 L81.4,25.6" fill="none" stroke="#000" stroke-width="2.3" stroke-linecap="round"/><path d="M17.9,39.9 L81.4,39.9" fill="none" stroke="#000" stroke-width="2.3" stroke-linecap="round"/><path d="M17.9,54.1 L104,54.1" fill="none" stroke="#000" stroke-width="2.3" stroke-linecap="round"/><path d="M17.9,68.6 L99.4,68.6" fill="none" stroke="#000" stroke-width="2.3" stroke-linecap="round"/><path d="M17.9,82.8 L99.4,82.8" fill="none" stroke="#000" stroke-width="2.3" stroke-linecap="round"/><path d="M17.9,97.1 L99.4,97.1" fill="none" stroke="#000" stroke-width="2.3" stroke-linecap="round"/><path d="M17.9,111.2 L109.3,111.2 L109.3,100.8" fill="none" stroke="#000" stroke-width="2.3"/><path d="M17.9,125.5 L99.4,125.5" fill="none" stroke="#000" stroke-width="2.3" stroke-linecap="round"/><path d="M99.4,139.9 L17.9,139.9 L17.9,151" fill="none" stroke="#000" stroke-width="2.3"/><circle cx="107.5" cy="54.1" r="3.6" fill="#fff" stroke="#000" stroke-width="2"/><circle cx="108.8" cy="97.1" r="3.6" fill="#fff" stroke="#000" stroke-width="2"/><circle cx="17.9" cy="154.6" r="3.6" fill="#fff" stroke="#000" stroke-width="2"/></g>
<polygon points="1232.5,2444.1 1254.5,2465.5 1254.5,2449.1 1303.4,2449.1 1303.4,2465.5 1325.4,2444.1 1303.4,2422.7 1303.4,2439.1 1254.5,2439.1 1254.5,2422.7" fill="#fff" stroke="#333" stroke-width="1.6" stroke-linejoin="round" />
<line x1="1248.7" y1="2537.9" x2="1308" y2="2537.9" stroke="#000" stroke-width="5.3" />
<polygon points="1323.9,2537.9 1306.2,2519.9 1306.2,2555.9" fill="#000" stroke="none" stroke-width="0" stroke-linejoin="round" />
<path d="M2007.51,2442.16 L2014.95,2447.26 L2011.11,2456.54 L2002.24,2454.89 L1999.19,2457.94 L2000.84,2466.81 L1991.56,2470.65 L1986.46,2463.21 L1982.14,2463.21 L1977.04,2470.65 L1967.76,2466.81 L1969.41,2457.94 L1966.36,2454.89 L1957.49,2456.54 L1953.65,2447.26 L1961.09,2442.16 L1961.09,2437.84 L1953.65,2432.74 L1957.49,2423.46 L1966.36,2425.11 L1969.41,2422.06 L1967.76,2413.19 L1977.04,2409.35 L1982.14,2416.79 L1986.46,2416.79 L1991.56,2409.35 L2000.84,2413.19 L1999.19,2422.06 L2002.24,2425.11 L2011.11,2423.46 L2014.95,2432.74 L2007.51,2437.84Z M1996.8,2440 A12.5,12.5 0 1 0 1971.8,2440 A12.5,12.5 0 1 0 1996.8,2440Z" fill="#000" fill-rule="evenodd" stroke="#000" stroke-width="2.83" stroke-linejoin="round"/>
<path d="M2007.68,2525.27 A25,25 0 1 1 1994.47,2510.34" fill="none" stroke="#000" stroke-width="4.4" stroke-linecap="round"/>
<path d="M1971.8,2526.65 L1983.9,2545.3 L2009.1,2506.41" fill="none" stroke="#000" stroke-width="7.92" stroke-linejoin="miter" stroke-miterlimit="10"/>
<g transform="translate(2538,2456.7) scale(1.95)"><path d="M-12.2,0 L-12.2,5 A12.2,6.6 0 0 0 12.2,5 L12.2,0" fill="#fff" stroke="#000" stroke-width="1.8"/><path d="M-10.5,7.2 A12.2,6.6 0 0 0 10.5,7.2" fill="none" stroke="#000" stroke-width="2.6" stroke-dasharray="2.2,1.6"/><ellipse cx="0" cy="0" rx="12.2" ry="6.6" fill="#fff" stroke="#000" stroke-width="2"/></g>
<g transform="translate(2538,2456.7) scale(1.95)"><path d="M-12.5,-29 C-4,-27 2,-22 3.4,-12.5 L-2.9,-12.5 C-3.5,-20 -6,-25 -12.5,-29 Z" fill="#000" stroke="#000" stroke-width="1" stroke-linejoin="round"/><polygon points="-9.5,-12.3 9.9,-12.3 0,0.6" fill="#000" stroke="#000" stroke-width="1" stroke-linejoin="round"/></g>
<g transform="translate(2538,2511.5) scale(1.95)"><path d="M-12.2,0 L-12.2,5 A12.2,6.6 0 0 0 12.2,5 L12.2,0" fill="#fff" stroke="#000" stroke-width="1.8"/><path d="M-10.5,7.2 A12.2,6.6 0 0 0 10.5,7.2" fill="none" stroke="#000" stroke-width="2.6" stroke-dasharray="2.2,1.6"/><ellipse cx="0" cy="0" rx="12.2" ry="6.6" fill="#fff" stroke="#000" stroke-width="2"/></g>
<g transform="translate(2538,2511.5) scale(1.95)"><path d="M2,6 L4,22" fill="none" stroke="#000" stroke-width="5"/><polygon points="-5,20 14,20 5,34" fill="#000"/></g>
</svg></body></html>
